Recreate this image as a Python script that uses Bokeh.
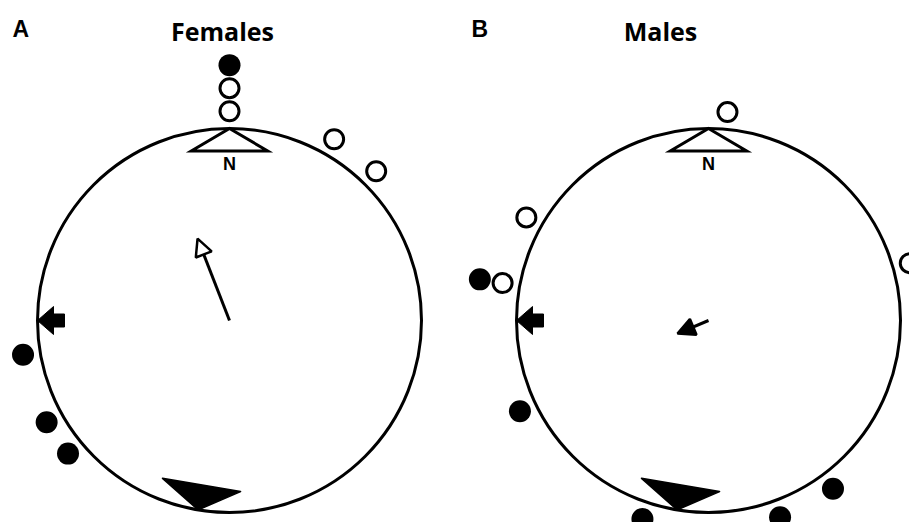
import numpy as np
from bokeh.plotting import figure
from bokeh.models import Range1d, Arrow, NormalHead
from bokeh.core.properties import value
from bokeh.embed import file_html
from bokeh.resources import INLINE

# ---------------- data (bearings in degrees clockwise from North) ----------------
panel_letters = ["A", "B"]
panel_titles = ["Females", "Males"]

fem_open_bearing = [0.0, 0.0, 30.0, 44.5]
fem_open_ring = [0, 1, 0, 0]
fem_filled_bearing = [0.0, 260.6, 240.9, 230.5]
fem_filled_ring = [2, 0, 0, 0]

male_open_bearing = [5.2, 299.5, 280.3, 74.1]
male_open_ring = [0, 0, 0, 0]
male_filled_bearing = [280.2, 244.3, 198.4, 160.0, 143.5]
male_filled_ring = [1, 0, 0, 0, 0]

mean_bearing = [338.7, 247.2]      # mean vector direction
mean_length = [0.458, 0.175]       # mean vector length r
mean_head_fill = ["white", "black"]
home_bearing = [270.0, 270.0]      # thick arrow on the rim
wedge_bearing = [189.4, 189.4]     # black wedge marker
north_bearing = [0.0, 0.0]

# ---------------- layout (style) ----------------
W, H = 909, 522
X0, Y0 = 0, 0
centers = [(229.0, 320.0), (708.0, 320.0)]
R = 192.0
base_d = 1.09
ring_d = 0.12
dot_r = 11.0

p = figure(width=W, height=H, output_backend="svg", toolbar_location=None,
           x_range=Range1d(X0, X0 + W), y_range=Range1d(Y0 + H, Y0),
           x_axis_location=None, y_axis_location=None, min_border=0)
p.grid.visible = False
p.outline_line_color = None
p.background_fill_color = "white"


def pol(c, b, d):
    b = np.radians(np.asarray(b, dtype=float))
    d = np.asarray(d, dtype=float)
    return c[0] + d * R * np.sin(b), c[1] - d * R * np.cos(b)


def local(c, b, pts):
    # pts: (u, v) offsets in pixels from rim point; u outward, v perpendicular
    br = np.radians(b)
    ox, oy = np.sin(br), -np.cos(br)
    px, py = np.cos(br), np.sin(br)
    tx, ty = pol(c, b, 1.0)
    xs = [float(tx + u * ox + v * px) for u, v in pts]
    ys = [float(ty + u * oy + v * py) for u, v in pts]
    return xs, ys


open_b = [fem_open_bearing, male_open_bearing]
open_r = [fem_open_ring, male_open_ring]
fill_b = [fem_filled_bearing, male_filled_bearing]
fill_r = [fem_filled_ring, male_filled_ring]

for i, c in enumerate(centers):
    # main circle
    p.circle(x=[c[0]], y=[c[1]], radius=R, fill_color=None,
             line_color="black", line_width=3)

    # north triangle
    tb = [north_bearing[i], north_bearing[i] + 12.7, north_bearing[i] - 12.7]
    td = [1.0, 0.905, 0.905]
    tx, ty = pol(c, tb, td)
    p.patch(x=list(tx), y=list(ty), fill_color="white", line_color="black",
            line_width=3, line_join="miter")
    nx, ny = pol(c, north_bearing[i], 0.815)
    p.text(x=[float(nx)], y=[float(ny)], text=["N"], text_align="center",
           text_baseline="middle", text_font=value("Liberation Sans"),
           text_font_style="bold", text_font_size="18px", text_color="black")

    # wedge
    wb = [wedge_bearing[i], wedge_bearing[i] + 13.6, wedge_bearing[i] - 13.1]
    wd = [1.0, 0.893, 0.893]
    wx, wy = pol(c, wb, wd)
    p.patch(x=list(wx), y=list(wy), fill_color="black", line_color="black",
            line_width=1.5, line_join="round")

    # home arrow on the rim
    shape = [(0, 0), (-16, 14), (-16, 6.5), (-27, 6.5), (-27, -6.5),
             (-16, -6.5), (-16, -14)]
    ax, ay = local(c, home_bearing[i], shape)
    p.patch(x=ax, y=ay, fill_color="black", line_color="black", line_width=1)

    # dots
    ox, oy = pol(c, open_b[i], base_d + ring_d * np.asarray(open_r[i]))
    p.circle(x=list(ox), y=list(oy), radius=dot_r - 1.5, fill_color="white",
             line_color="black", line_width=3)
    fx, fy = pol(c, fill_b[i], base_d + ring_d * np.asarray(fill_r[i]))
    p.circle(x=list(fx), y=list(fy), radius=dot_r, fill_color="black",
             line_color="black", line_width=0)

    # mean vector
    ex, ey = pol(c, mean_bearing[i], mean_length[i])
    head = NormalHead(size=17, fill_color=mean_head_fill[i], line_color="black",
                      line_width=2.5)
    p.add_layout(Arrow(x_start=c[0], y_start=c[1], x_end=float(ex), y_end=float(ey),
                       line_width=3, line_color="black", end=head))

# panel letters and titles
p.text(x=[12, 471], y=[28, 28], text=panel_letters, text_align="left",
       text_baseline="middle", text_font=value("Liberation Sans"),
       text_font_style="bold", text_font_size="23px", text_color="black")
p.text(x=[222, 660], y=[30, 30], text=panel_titles, text_align="center",
       text_baseline="middle", text_font=value("Open Sans"),
       text_font_style="bold", text_font_size="25px", text_color="black")

open("out.html", "w").write(file_html(p, INLINE))
